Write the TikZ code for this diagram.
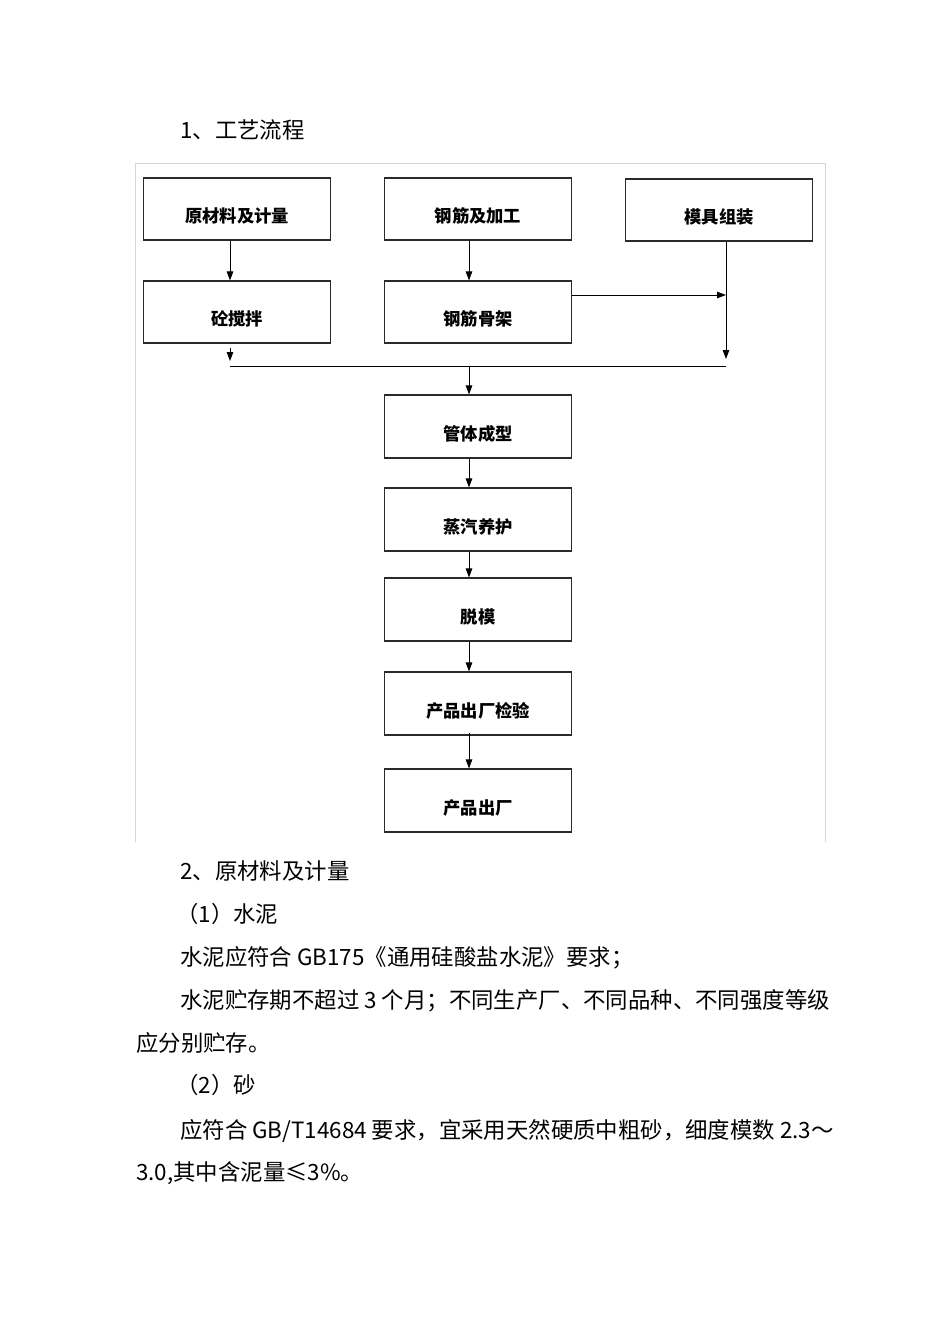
\documentclass[tikz,border=0pt]{standalone}
\usepackage{fontspec}
\setmainfont{Noto Sans CJK SC}
\usetikzlibrary{arrows.meta}
\definecolor{boxline}{HTML}{2A2A2A}
\definecolor{framegray}{HTML}{D6D6D6}
\tikzset{
  procbox/.style={draw=boxline, line width=1.1pt, rectangle, minimum width=187pt, minimum height=62pt,
    inner sep=0pt, text height=27pt, text depth=0pt, font=\fontsize{17.3pt}{17.3pt}\selectfont\bfseries},
  flow/.style={draw=black, line width=0.9pt, -{Triangle[length=9pt,width=6.5pt]}},
  plain/.style={draw=black, line width=0.9pt},
  bodytext/.style={anchor=base west, inner sep=0pt, font=\fontsize{22.4pt}{22.4pt}\selectfont}
}
\begin{document}
\begin{tikzpicture}[x=1pt,y=-1pt]
\useasboundingbox (0,0) rectangle (950,1344);
\fill[white] (0,0) rectangle (950,1344);

% frame
\draw[framegray, line width=0.8pt] (135,842) -- (135,163) -- (825,163) -- (825,842);

% heading
\node[bodytext] (h1) at (180,138) {1、工艺流程};

% boxes
\node[procbox] (rawmat) at (237,209) {原材料及计量};
\node[procbox] (steel)  at (478,209) {钢筋及加工};
\node[procbox] (mold)   at (719,210) {模具组装};
\node[procbox] (mix)    at (237,312) {砼搅拌};
\node[procbox] (cage)   at (478,312) {钢筋骨架};
\node[procbox, minimum height=63pt] (form)    at (478,426.5) {管体成型};
\node[procbox, minimum height=63pt] (steam)   at (478,519.5) {蒸汽养护};
\node[procbox, minimum height=63pt] (demold)  at (478,609.5) {脱模};
\node[procbox, minimum height=63pt] (inspect) at (478,703.5) {产品出厂检验};
\node[procbox, minimum height=63pt] (ship)    at (478,800.5) {产品出厂};

% junction coordinates
\coordinate (mixEnd)  at (230,361);
\coordinate (mergeL)  at (230,366);
\coordinate (mergeR)  at (726,366);
\coordinate (mergeC)  at (469,366);
\coordinate (moldEnd) at (726,359);
\coordinate (cageEnd) at (726,295);
\coordinate (mixStart) at (230,348);

% connectors
\draw[flow] ([xshift=-7pt]rawmat.south) -- ([xshift=-7pt]mix.north);
\draw[flow] ([xshift=-9pt]steel.south) -- ([xshift=-9pt]cage.north);
\draw[flow] ([yshift=17pt]cage.east) -- (cageEnd);
\draw[flow] ([xshift=7pt]mold.south) -- (moldEnd);
\draw[flow] (mixStart) -- (mixEnd);
\draw[plain] (mergeL) -- (mergeR);
\draw[flow] (mergeC) -- ([xshift=-9pt]form.north);
\draw[flow] ([xshift=-9pt]form.south) -- ([xshift=-9pt]steam.north);
\draw[flow] ([xshift=-9pt]steam.south) -- ([xshift=-9pt]demold.north);
\draw[flow] ([xshift=-9pt]demold.south) -- ([xshift=-9pt]inspect.north);
\draw[flow] ([xshift=-9pt,yshift=3pt]inspect.south) -- ([xshift=-9pt]ship.north);

% body text
\node[bodytext] (t1) at (180,879) {2、原材料及计量};
\node[bodytext] (t2) at (176,922) {（1）水泥};
\node[bodytext] (t3) at (180,965) {水泥应符合 GB175《通用硅酸盐水泥》要求；};
\node[bodytext] (t4) at (180,1008) {水泥贮存期不超过 3 个月；不同生产厂、不同品种、不同强度等级};
\node[bodytext] (t5) at (136,1051) {应分别贮存。};
\node[bodytext] (t6) at (176,1093) {（2）砂};
\node[bodytext] (t7) at (180,1138) {应符合 GB/T14684 要求，宜采用天然硬质中粗砂，细度模数 2.3～};
\node[bodytext] (t8) at (136,1180) {3.0,其中含泥量≤3\%。};
\end{tikzpicture}
\end{document}
